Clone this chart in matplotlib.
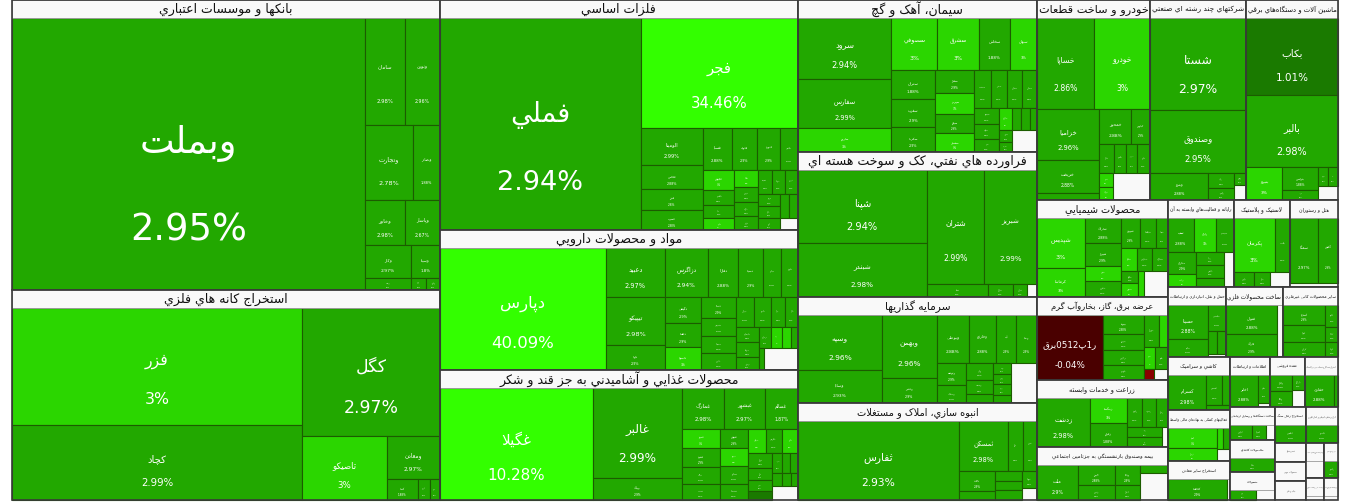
import matplotlib
matplotlib.use("Agg")
import matplotlib.pyplot as plt
from matplotlib.patches import Rectangle

# ---------------------------------------------------------------------------
# data: (ticker, market value share, change %) for every sector.
# the last number of a sector entry is the part of the sector that is not traded
# (it stays empty in the map).
# ---------------------------------------------------------------------------
banks = [("وبملت", 1023.5, 2.95), ("سامان", 45.6, 2.98), ("ونوين", 39.9, 2.96),
         ("وتجارت", 38.4, 2.78), ("وبصادر", 21.6, 1.88), ("وخاور", 19.2, 2.98),
         ("وپاسار", 16.8, 2.67), ("وکار", 16.2, 2.97), ("وسينا", 10.2, 1.8),
         ("وپست", 5.9, 2.9), ("ودي", 1.9, 2.9), ("وکوثر", 1.8, 2.9)]
mining = [("فزر", 370.4, 3.0), ("کچاد", 238.6, 2.99), ("کگل", 192.7, 2.97),
          ("تاصيکو", 59.8, 3.0), ("ومعادن", 25.2, 2.97), ("کدما", 7.0, 1.88),
          ("کروي", 2.7, 2.9), ("کبافق", 2.3, 2.9)]
metals = [("فملي", 462.3, 2.94), ("فجر", 187.4, 34.46), ("الومينا", 24.7, 2.99),
          ("فخاس", 16.2, 2.88), ("فنرژ", 14.1, 2.8), ("فسرب", 13.3, 2.88),
          ("فسپا", 13.3, 2.88), ("فلوله", 11.7, 2.9), ("فنورد", 10.6, 2.9),
          ("فلامي", 8.0, 2.9), ("فجوش", 6.6, 3.0), ("فگستر", 5.2, 2.9),
          ("فپنتا", 4.5, 2.9), ("فباهنر", 4.2, 3.0), ("فاما", 4.2, 3.0),
          ("فروي", 3.9, 2.9), ("فکاوه", 3.7, 2.9), ("فرآور", 3.5, 2.9),
          ("فسديد", 3.4, 2.9), ("فتوسا", 3.3, 2.9), ("فزرين", 3.3, 2.9),
          ("هرمز", 3.0, 2.9), ("فافزا", 2.8, 2.9), ("ارفع", 2.7, 2.9),
          ("فرود", 2.5, 2.9), ("فوکا", 2.4, 2.9)]
pharma = [("دپارس", 232.4, 40.09), ("دعبيد", 33.2, 2.97), ("تيپيکو", 32.5, 2.98),
          ("دلوا", 16.9, 2.9), ("دزاگرس", 24.2, 2.94), ("دفارا", 16.9, 2.88),
          ("دسينا", 13.5, 2.9), ("دجابر", 10.1, 2.9), ("دکوثر", 9.6, 2.9),
          ("دکيمي", 10.9, 2.9), ("دلقما", 10.0, 2.9), ("داسوه", 9.6, 3.0),
          ("دتماد", 8.4, 2.9), ("دشيمي", 7.2, 2.9), ("دسبحا", 6.8, 2.9),
          ("دامين", 6.8, 2.9), ("ديران", 6.3, 2.9), ("دابور", 6.0, 2.9),
          ("دفرا", 4.8, 2.9), ("دالبر", 4.6, 2.9), ("دکپسول", 4.0, 2.9),
          ("دتوليد", 4.0, 2.9), ("درهآور", 3.3, 2.9), ("دزهراوي", 2.9, 2.9),
          ("داوه", 2.6, 3.0), ("دکسوا", 2.2, 3.0), ("دارو", 1.5, 2.9),
          ("دبالک", 1.3, 2.9)]
food = [("غگيلا", 198.9, 10.28), ("غالبر", 93.0, 2.99), ("بهپاک", 22.7, 2.9),
        ("غمارگ", 20.0, 2.98), ("غبشهر", 19.0, 2.97), ("غسالم", 15.7, 1.87),
        ("غمينو", 8.6, 3.0), ("غشهد", 8.3, 2.9), ("غپاک", 7.6, 2.9),
        ("غدشت", 6.8, 2.9), ("غنوش", 6.5, 2.9), ("غپينو", 5.8, 3.0),
        ("غشاذر", 5.8, 2.9), ("غشصفا", 5.4, 2.9), ("غنيلي", 5.0, 3.0),
        ("غگرجي", 4.6, 2.9), ("غاذر", 4.6, 3.0), ("غبهار", 4.1, 2.9),
        ("غدام", 3.5, 2.9), ("غفارس", 3.0, 2.9), ("غکورش", 2.6, 1.0),
        ("غصينو", 2.3, 2.9), ("غچين", 1.8, 2.9), ("غزر", 1.7, 2.9),
        ("غويتا", 1.4, 2.9), ("غمهرا", 1.4, 2.9), ("غبيسکو", 1.0, 2.9)]
cement = [("سرود", 64.7, 2.94), ("سفارس", 52.2, 2.99), ("ساروم", 25.0, 3.0),
          ("سصوفي", 27.0, 3.0), ("سشرق", 24.5, 3.0), ("سخاش", 17.8, 1.88),
          ("سبهان", 15.9, 3.0), ("ستران", 14.7, 1.88), ("سغرب", 14.2, 2.9),
          ("سکرما", 12.5, 2.9), ("سفار", 10.1, 2.9), ("سهرمز", 9.0, 3.0),
          ("سيلام", 8.6, 2.9), ("سشمال", 8.1, 3.0), ("سدشت", 7.4, 2.9),
          ("سخزر", 7.0, 2.9), ("سقاين", 6.8, 2.9), ("سمازن", 6.5, 2.9),
          ("سبجنو", 4.6, 2.9), ("سکرد", 4.4, 2.9), ("سنير", 3.7, 2.9),
          ("ساربيل", 3.1, 3.0), ("سفانو", 2.2, 2.9), ("سجام", 2.2, 2.9),
          ("سبزوا", 1.7, 2.9), ("سدور", 1.7, 2.9), ("سخواف", 1.4, 2.9)]
oil = [("شپنا", 108.1, 2.94), ("شبندر", 78.9, 2.98), ("شتران", 74.8, 2.99),
       ("شبريز", 68.3, 2.99), ("شسپا", 9.1, 2.9), ("شاوان", 3.7, 2.9),
       ("شرانل", 2.2, 2.9)]
invest = [("وسپه", 55.9, 2.96), ("وساپا", 33.2, 2.93), ("وبهمن", 41.8, 2.96),
          ("وغدير", 16.2, 2.9), ("وبوعلي", 18.9, 2.88), ("وخارزم", 15.3, 2.88),
          ("آپ", 11.8, 2.9), ("وصنا", 11.8, 2.9), ("وتوشه", 8.1, 2.9),
          ("وسکاب", 6.2, 2.9), ("واتي", 5.4, 2.9), ("وصنعت", 4.7, 2.9),
          ("والبر", 2.7, 2.9), ("وسنا", 2.4, 2.9), ("وآتوس", 2.4, 2.9),
          ("ونيکي", 2.3, 2.9), ("وکغدير", 1.8, 2.9)]
housing = [("ثفارس", 156.2, 2.93), ("ثمسکن", 30.7, 2.98), ("ثنام", 9.2, 2.9),
           ("ثشرق", 8.6, 2.9), ("ثاخت", 9.0, 2.9), ("ثباغ", 3.9, 2.9),
           ("ثامان", 3.1, 2.9), ("ثعمرا", 3.1, 2.9), ("ثالوند", 3.1, 2.9),
           ("ثنوسا", 3.1, 2.9)]
autos = [("خساپا", 57.0, 2.86), ("خودرو", 56.0, 3.0), ("خزاميا", 34.6, 2.96),
         ("خريخت", 22.8, 2.88), ("خبهمن", 4.8, 2.9), ("خمحور", 12.6, 2.88),
         ("خپارس", 7.3, 2.9), ("خکار", 4.8, 2.9), ("خگستر", 3.8, 2.9),
         ("خموتور", 3.5, 2.9), ("خاهن", 4.2, 2.9), ("خفنر", 2.1, 3.0),
         ("خرينگ", 2.0, 3.0)]
holding = [("شستا", 97.1, 2.97), ("وصندوق", 66.8, 2.95), ("وپترو", 16.9, 2.88),
           ("رنيک", 4.1, 2.9), ("وگستر", 3.6, 2.9), ("وتوس", 1.5, 2.9)]
machinery = [("بکاب", 78.0, 1.01), ("بالبر", 73.0, 2.98), ("بنيرو", 12.9, 3.0),
             ("بترانس", 9.1, 1.88), ("بموتو", 4.0, 2.9), ("بشهاب", 2.0, 2.9),
             ("بايکا", 2.0, 2.9)]
chemical = [("شپديس", 29.5, 3.0), ("کرماشا", 17.2, 3.0), ("شاراک", 11.2, 2.88),
            ("شيراز", 9.9, 2.9), ("شفن", 6.9, 3.0), ("شکربن", 6.9, 2.9),
            ("شبهرن", 7.0, 2.9), ("شپاکسا", 5.7, 2.9), ("شسينا", 4.4, 2.9),
            ("شکلر", 4.4, 3.0), ("شفارس", 4.4, 2.9), ("شخارک", 4.4, 2.9),
            ("شگويا", 2.7, 2.9), ("شدوص", 2.9, 3.0), ("شلعاب", 1.9, 3.0)]
power = [("ر1پ0512برق", 54.5, -0.04), ("بپيوند", 10.3, 2.88), ("بجهرم", 8.5, 2.9),
         ("بزاگرس", 8.0, 2.9), ("بکهنوج", 7.8, 2.9), ("بتهران", 6.0, 2.9),
         ("بخاور", 3.7, 3.0), ("بسويچ", 3.1, 3.0), ("بمولد", 3.6, 2.9),
         ("بنيان", 1.3, -2.0)]
farming = [("زدشت", 35.5, 2.98), ("زمگسا", 12.6, 3.0), ("زقيام", 12.1, 1.88),
           ("زکوثر", 6.3, 2.9), ("زشريف", 5.4, 2.9), ("زنجان", 4.8, 2.9),
           ("زفجر", 4.8, 2.9), ("زبينا", 4.8, 2.9)]
insurance = [("ملت", 21.6, 2.9), ("البرز", 11.4, 2.88), ("وآفري", 8.2, 2.9),
             ("ودانا", 7.7, 2.9), ("اتکاي", 5.7, 2.9), ("حافظ", 3.5, 2.9)]
computer = [("سپ", 11.1, 2.88), ("رايان", 9.4, 3.0), ("سيستم", 7.7, 2.9),
            ("مداران", 7.7, 2.9), ("پرداخت", 4.8, 3.0), ("رتاپ", 4.5, 2.9),
            ("تاپکيش", 4.6, 2.9), ("افق", 3.3, 2.9)]
rubber = [("پکرمان", 27.7, 3.0), ("پلاست", 10.4, 2.9), ("پارس", 3.8, 2.9),
          ("پتاير", 3.0, 2.9)]
hotel = [("سمگا", 23.1, 2.97), ("گکيش", 16.0, 2.9)]
transport = [("حسينا", 18.4, 2.88), ("حتايد", 9.7, 2.9), ("حکشتي", 6.3, 2.9),
             ("حپترو", 2.8, 2.9), ("حآسا", 2.6, 2.9)]
metal_goods = [("فنوال", 20.2, 2.88), ("فاراک", 15.8, 2.9)]
minerals = [("کساوه", 11.3, 2.9), ("کفرا", 9.7, 2.9), ("کرازي", 8.6, 2.9),
            ("کلوند", 3.7, 2.9), ("کخاک", 2.6, 2.9), ("کهمدا", 2.6, 2.9)]
tiles = [("کسرام", 20.4, 2.98), ("کسعدي", 7.3, 2.9), ("کپارس", 3.3, 2.9),
         ("کنيلو", 1.9, 2.9)]
fin_aux = [("اميد", 15.2, 3.0), ("آرمان", 9.9, 3.0), ("کارا", 2.0, 3.0),
           ("اطلس", 2.1, 2.9)]
other_mines = [("کحافظ", 23.0, 2.9)]
telecom = [("اخابر", 14.0, 2.88), ("همراه", 5.3, 2.9)]
wholesale = [("ولکار", 5.6, 2.88), ("وکالا", 5.3, 2.9), ("بازرگام", 3.1, 2.9)]
oil_service = [("حفاري", 14.4, 2.88), ("کاسپين", 2.1, 2.9)]
devices = [("لپارس", 7.3, 2.9), ("لسرما", 4.6, 2.9)]
paper = [("چکاپا", 14.4, 2.9)]
textile = [("نبروج", 7.3, 2.9)]
coal = [("کطبس", 11.2, 2.9)]
medical = [("آکنتور", 11.5, 2.9)]
engineering = [("رانفور", 4.9, 2.9)]

sectors = [
    ("بانکها و موسسات اعتباري", banks, 0.0, [-1, 2, 2, 2, 2, 3]),
    ("استخراج کانه هاي فلزي", mining, 0.0, [-2, 1, -1, 1, -1, -1, -1]),
    ("فلزات اساسي", metals, 2.3, [-1, 1]),
    ("مواد و محصولات دارويي", pharma, 8.7, [-1, -3, 5]),
    ("محصولات غذايي و آشاميدني به جز قند و شکر", food, 4.3, [-1, -2, 3]),
    ("سيمان، آهک و گچ", cement, 6.3, [-3, 4]),
    ("فراورده هاي نفتي، کک و سوخت هسته اي", oil, 1.4, [-2, 2]),
    ("سرمايه گذاريها", invest, 12.4, [-2, -2, 4]),
    ("انبوه سازي، املاک و مستغلات", housing, 2.2, [-1, 3]),
    ("خودرو و ساخت قطعات", autos, 11.1, [2, -3, 2]),
    ("شرکتهاي چند رشته اي صنعتي", holding, 2.0, [1, 1]),
    ("ماشين آلات و دستگاه‌هاي برقي", machinery, 3.0, [1, 1]),
    ("محصولات شيميايي", chemical, 7.6, [-2]),
    ("عرضه برق، گاز، بخاروآب گرم", power, 1.9, [-1]),
    ("زراعت و خدمات وابسته", farming, 1.5, [-1]),
    ("بيمه وصندوق بازنشستگي به جزتامين اجتماعي", insurance, 11.2, []),
    ("رايانه و فعاليت‌هاي وابسته به آن", computer, 4.3, []),
    ("لاستيک و پلاستيک", rubber, 3.8, []),
    ("هتل و رستوران", hotel, 2.7, []),
    ("حمل و نقل، انبارداري و ارتباطات", transport, 0.8, []),
    ("ساخت محصولات فلزي", metal_goods, 3.9, []),
    ("ساير محصولات کاني غيرفلزي", minerals, 0.0, []),
    ("کاشي و سراميک", tiles, 0.0, []),
    ("فعاليتهاي کمکي به نهادهاي مالي واسط", fin_aux, 2.3, []),
    ("استخراج ساير معادن", other_mines, 1.2, []),
    ("اطلاعات و ارتباطات", telecom, 0.7, []),
    ("عمده فروشي", wholesale, 3.5, []),
    ("استخراج نفت گاز و خدمات جنبي جز اکتشاف", oil_service, 0.0, []),
    ("ساخت دستگاه‌ها و وسايل ارتباطي", devices, 3.0, []),
    ("محصولات کاغذي", paper, 0.0, []),
    ("منسوجات", textile, 5.3, []),
    ("استخراج زغال سنگ", coal, 0.0, []),
    ("قند و شکر", [], 6.2, []),
    ("محصولات چوبي", [], 5.9, []),
    ("چاپ و تکثير", [], 5.9, []),
    ("ابزارپزشکي، اپتيکي و اندازه‌گيري", medical, 0.0, []),
    ("خرده فروشي،باستثناي وسايل نقليه موتوري", [], 6.3, []),
    ("فني و مهندسي", engineering, 0.0, []),
    ("دباغي، پرداخت چرم و ساخت انواع پاپوش", [], 4.0, []),
    ("ساير واسطه گريهاي مالي", [], 3.1, []),
]
# row structure of the sector level (negative = column at the left, positive = row on top)
sector_rows = [-2, -3, -4, 3, -4, 3, 3, -3, 3, -3, -4, 1, 2, 2]

# ---------------------------------------------------------------------------
# persian shaping (matplotlib has no bidi / joining support)
# ---------------------------------------------------------------------------
FORMS = {
    'ا': 'ﺍﺎ', 'آ': 'ﺁﺂ', 'أ': 'ﺃﺄ', 'إ': 'ﺇﺈ', 'ب': 'ﺏﺐﺑﺒ', 'پ': 'ﭖﭗﭘﭙ',
    'ت': 'ﺕﺖﺗﺘ', 'ث': 'ﺙﺚﺛﺜ', 'ج': 'ﺝﺞﺟﺠ', 'چ': 'ﭺﭻﭼﭽ', 'ح': 'ﺡﺢﺣﺤ',
    'خ': 'ﺥﺦﺧﺨ', 'د': 'ﺩﺪ', 'ذ': 'ﺫﺬ', 'ر': 'ﺭﺮ', 'ز': 'ﺯﺰ', 'ژ': 'ﮊﮋ',
    'س': 'ﺱﺲﺳﺴ', 'ش': 'ﺵﺶﺷﺸ', 'ص': 'ﺹﺺﺻﺼ', 'ض': 'ﺽﺾﺿﻀ', 'ط': 'ﻁﻂﻃﻄ',
    'ظ': 'ﻅﻆﻇﻈ', 'ع': 'ﻉﻊﻋﻌ', 'غ': 'ﻍﻎﻏﻐ', 'ف': 'ﻑﻒﻓﻔ', 'ق': 'ﻕﻖﻗﻘ',
    'ک': 'ﮎﮏﮐﮑ', 'گ': 'ﮒﮓﮔﮕ', 'ل': 'ﻝﻞﻟﻠ', 'م': 'ﻡﻢﻣﻤ', 'ن': 'ﻥﻦﻧﻨ',
    'ه': 'ﻩﻪﻫﻬ', 'و': 'ﻭﻮ', 'ي': 'ﻱﻲﻳﻴ', 'ی': 'ﯼﯽﯾﯿ', 'ئ': 'ﺉﺊﺋﺌ',
}
LAM_ALEF = {'ا': 'ﻻﻼ', 'آ': 'ﻵﻶ', 'أ': 'ﻷﻸ', 'إ': 'ﻹﻺ'}


def joins_forward(ch):
    return ch in FORMS and len(FORMS[ch]) == 4


def shape(s):
    out, i = [], 0
    while i < len(s):
        c = s[i]
        if c not in FORMS:
            out.append(c)
            i += 1
            continue
        jp = i > 0 and joins_forward(s[i - 1])
        if c == 'ل' and i + 1 < len(s) and s[i + 1] in LAM_ALEF:
            out.append(LAM_ALEF[s[i + 1]][1 if jp else 0])
            i += 2
            continue
        jn = joins_forward(c) and i + 1 < len(s) and s[i + 1] in FORMS
        f = FORMS[c]
        if jp and jn:
            g = f[3]
        elif jp:
            g = f[1]
        elif jn:
            g = f[2]
        else:
            g = f[0]
        out.append(g)
        i += 1
    return ''.join(out)


def visual(s):
    s = shape(s)
    runs = []
    for ch in s:
        t = 'L' if (ch.isascii() and (ch.isalnum() or ch in '.%-')) else 'R'
        if runs and runs[-1][0] == t:
            runs[-1][1].append(ch)
        else:
            runs.append([t, [ch]])
    parts = [''.join(c if t == 'L' else reversed(c)) for t, c in reversed(runs)]
    return ''.join(parts).replace('\u200c', '')


# ---------------------------------------------------------------------------
# squarified treemap (d3 style), optional fixed row structure
# ---------------------------------------------------------------------------
RATIO = 1.95


def squarify(values, x0, y0, x1, y1, total, rows=()):
    rects = [None] * len(values)
    n, i0, r, value = len(values), 0, 0, total
    while i0 < n and value > 0:
        dx, dy = x1 - x0, y1 - y0
        if r < len(rows):
            i1 = min(n, i0 + abs(rows[r]))
            dice = rows[r] > 0
            r += 1
            s = sum(values[i0:i1])
        else:
            i1 = i0 + 1
            s = mn = mx = values[i0]
            alpha = max(dy / dx, dx / dy) / (value * RATIO)
            beta = s * s * alpha
            best = max(mx / beta, beta / mn)
            while i1 < n:
                v = values[i1]
                s2 = s + v
                beta = s2 * s2 * alpha
                rr = max(max(mx, v) / beta, beta / min(mn, v))
                if rr > best:
                    break
                s, mn, mx, best = s2, min(mn, v), max(mx, v), rr
                i1 += 1
            dice = dx < dy
        if dice:
            yy = y0 + dy * s / value
            xx = x0
            for k in range(i0, i1):
                w = dx * values[k] / s
                rects[k] = (xx, y0, w, yy - y0)
                xx += w
            y0 = yy
        else:
            xx = x0 + dx * s / value
            yy = y0
            for k in range(i0, i1):
                h = dy * values[k] / s
                rects[k] = (x0, yy, xx - x0, h)
                yy += h
            x0 = xx
        value -= s
        i0 = i1
    return rects


def cell_color(p):
    if p >= 5:
        return "#33ff00"
    if p >= 3:
        return "#2bd600"
    if p >= 1.5:
        return "#22a800"
    if p >= 0:
        return "#1a7a00"
    if p > -1:
        return "#4a0000"
    return "#8b0000"


def fmt_pct(p):
    return f"{round(p, 2):g}%"


W, H = 1350, 503
X0, Y0, X1, Y1 = 12, 0, 1338, 500
HEAD = 18
PX = 72 / 100  # px -> pt at dpi 100

fig = plt.figure(figsize=(W / 100, H / 100), dpi=100)
ax = fig.add_axes([0, 0, 1, 1])
ax.set_xlim(0, W)
ax.set_ylim(H, 0)
ax.axis("off")
renderer = fig.canvas.get_renderer()

sector_vals = [sum(v for _, v, _ in leaves) + rest for _, leaves, rest, _ in sectors]
sector_rects = squarify(sector_vals, X0, Y0, X1, Y1, sum(sector_vals), sector_rows)

for (title, leaves, rest, rows), total, (sx, sy, sw, sh) in zip(sectors, sector_vals, sector_rects):
    ax.add_patch(Rectangle((sx, sy), sw, sh, facecolor="#f9f9f9", edgecolor="none"))
    vals = [v for _, v, _ in leaves]
    if leaves:
        cells = squarify(vals, sx, sy + HEAD, sx + sw, sy + sh, total, rows)
        for (name, v, p), (cx, cy, cw, ch) in zip(leaves, cells):
            ax.add_patch(Rectangle((cx, cy), cw, ch, facecolor=cell_color(p),
                                   edgecolor="#1c5c00", linewidth=0.8))
            fs = 0.135 * min(cw, ch)
            if fs < 1.3:
                continue
            clip = Rectangle((cx, cy), cw, ch, transform=ax.transData)
            for txt, fy in ((visual(name), 0.46), (fmt_pct(p), 0.78)):
                t = ax.text(cx + cw / 2, cy + fy * ch, txt, color="white",
                            fontsize=fs * PX, ha="center", va="center",
                            family="DejaVu Sans", clip_on=True)
                t.set_clip_path(clip)
    # header
    ax.add_patch(Rectangle((sx, sy), sw, HEAD, facecolor="#f9f9f9",
                           edgecolor="#9a9a9a", linewidth=0.6))
    hfs = min(12.5, 0.1 * min(sw, sh))
    clip = Rectangle((sx + 1, sy), sw - 2, HEAD, transform=ax.transData)
    t = ax.text(sx + sw / 2, sy + HEAD / 2 + 0.5, visual(title), color="#111111",
                fontsize=hfs * PX, ha="center", va="center", family="DejaVu Sans",
                clip_on=True)
    tw = t.get_window_extent(renderer=renderer).width
    if tw > sw - 4:
        t.set_fontsize(hfs * PX * (sw - 4) / tw)
    t.set_clip_path(clip)
    ax.add_patch(Rectangle((sx, sy), sw, sh, facecolor="none",
                           edgecolor="#3a3a3a", linewidth=1.2))

fig.savefig("out.png", dpi=100)
